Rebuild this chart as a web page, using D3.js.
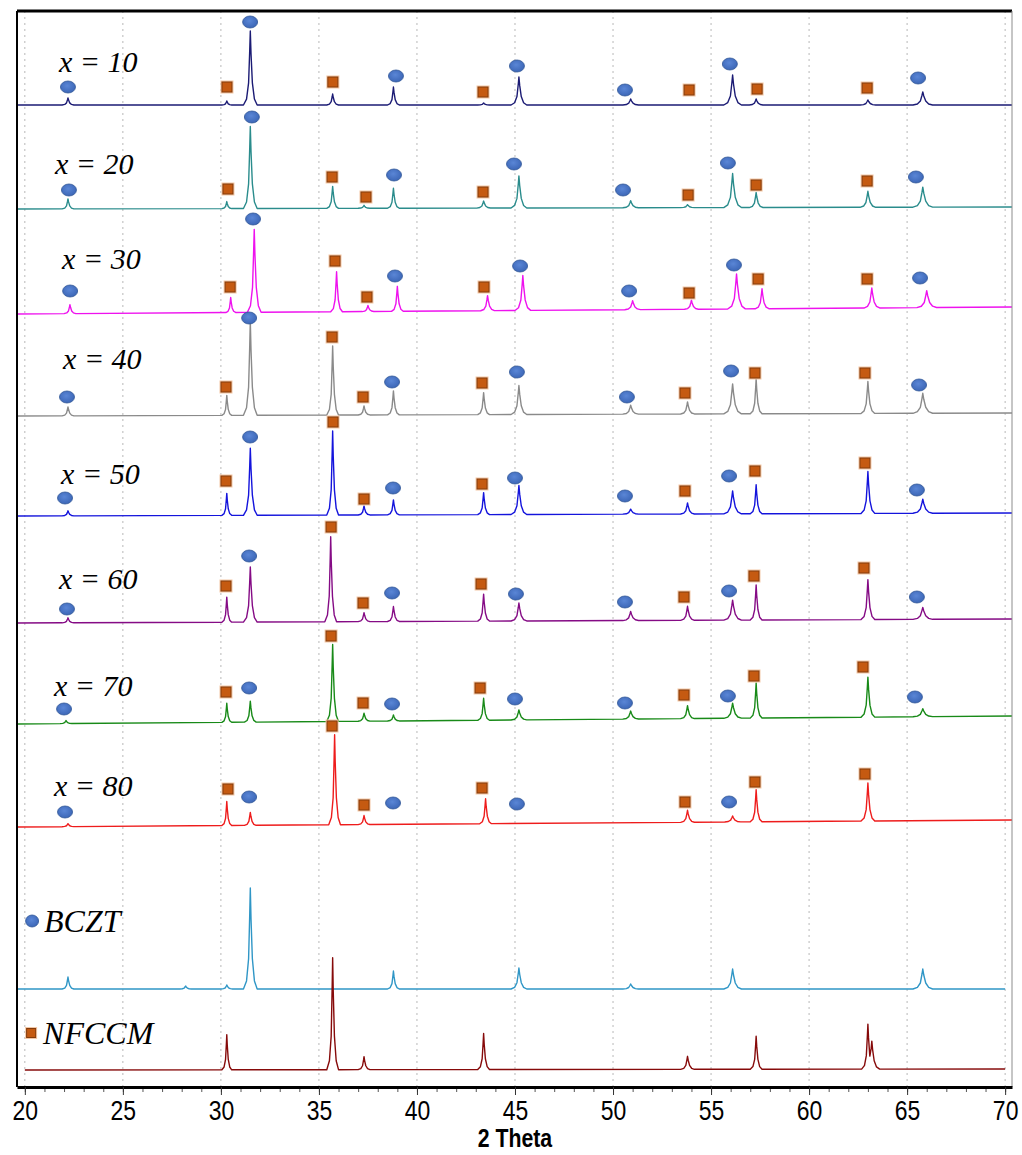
<!DOCTYPE html>
<html>
<head>
<meta charset="utf-8">
<script src="https://cdn.jsdelivr.net/npm/d3@7"></script>
<style>
body { margin: 0; background: #fff; }
</style>
</head>
<body>
<div id="chart"></div>
<script>
var width = 1022;
var height = 1155;

// patterns, top to bottom
var patterns = ["x = 10", "x = 20", "x = 30", "x = 40", "x = 50", "x = 60", "x = 70", "x = 80", "BCZT", "NFCCM"];

// baseline level (a.u.) of each pattern at the low and high angle end
var baseLeft  = [982, 878, 773, 671, 571, 464, 363, 260, 98, 17];
var baseRight = [982, 880, 780, 674, 574, 468, 371, 267, 98, 18];

// scanned 2theta range
var scanStart = [19.6, 19.6, 19.6, 19.6, 19.6, 19.6, 19.6, 19.6, 19.6, 20.0];
var scanEnd   = [70.35, 70.35, 70.35, 70.35, 70.35, 70.35, 70.35, 70.35, 70.0, 70.0];

// reflections: [2theta, height above baseline, half base width]
var peaks10 = [[22.2,7,0.3],[30.3,4,0.25],[31.5,74,0.35],[35.7,11,0.3],[38.8,18,0.3],[43.4,2,0.3],[45.2,28,0.4],[50.9,6,0.4],[56.1,30,0.45],[57.3,6,0.35],[63.0,5,0.4],[65.8,13,0.5]];
var peaks20 = [[22.2,10,0.3],[30.3,7,0.25],[31.5,82,0.35],[35.7,22,0.3],[37.3,3,0.3],[38.8,20,0.3],[43.4,7,0.35],[45.2,32,0.4],[50.9,7,0.4],[53.8,3,0.35],[56.1,34,0.45],[57.3,15,0.35],[63.0,16,0.4],[65.8,20,0.5]];
var peaks30 = [[22.3,9,0.3],[30.5,15,0.25],[31.7,83,0.35],[35.9,40,0.3],[37.5,6,0.3],[39.0,25,0.3],[43.6,15,0.35],[45.4,35,0.4],[51.0,9,0.4],[54.0,9,0.35],[56.3,35,0.45],[57.6,20,0.35],[63.2,20,0.4],[66.0,17,0.5]];
var peaks40 = [[22.2,9,0.3],[30.3,20,0.25],[31.5,94,0.35],[35.7,69,0.3],[37.3,9,0.3],[38.8,24,0.3],[43.4,22,0.3],[45.2,29,0.4],[50.9,9,0.4],[53.8,12,0.35],[56.1,30,0.45],[57.3,35,0.3],[63.0,32,0.35],[65.8,20,0.5]];
var peaks50 = [[22.2,5,0.3],[30.3,22,0.25],[31.5,67,0.35],[35.7,84,0.3],[37.3,9,0.3],[38.8,15,0.3],[43.4,22,0.3],[45.2,29,0.4],[50.9,5,0.4],[53.8,11,0.35],[56.1,23,0.45],[57.3,29,0.3],[63.0,42,0.35],[65.8,14,0.5]];
var peaks60 = [[22.2,5,0.3],[30.3,25,0.25],[31.5,55,0.35],[35.6,85,0.3],[37.3,9,0.3],[38.8,15,0.3],[43.4,27,0.3],[45.2,18,0.4],[50.9,9,0.4],[53.8,14,0.35],[56.1,20,0.45],[57.3,35,0.3],[63.0,40,0.35],[65.8,12,0.5]];
var peaks70 = [[22.1,3,0.3],[30.3,19,0.25],[31.5,21,0.3],[35.7,77,0.3],[37.3,8,0.3],[38.8,6,0.3],[43.4,22,0.3],[45.2,10,0.4],[50.9,8,0.4],[53.8,13,0.35],[56.1,15,0.45],[57.3,35,0.3],[63.0,40,0.35],[65.8,8,0.5]];
var peaks80 = [[22.2,3,0.3],[30.3,24,0.25],[31.5,13,0.3],[35.8,90,0.3],[37.3,9,0.3],[43.5,25,0.3],[53.8,12,0.35],[56.1,6,0.4],[57.3,32,0.3],[63.0,38,0.35]];
var peaksBCZT = [[22.2,12,0.3],[28.2,3,0.3],[30.3,4,0.3],[31.5,101,0.35],[38.8,18,0.3],[45.2,21,0.4],[50.9,5,0.4],[56.1,20,0.45],[65.8,20,0.5]];
var peaksNFCCM = [[30.3,35,0.25],[35.7,112,0.3],[37.3,13,0.3],[43.4,36,0.3],[53.8,13,0.35],[57.3,33,0.3],[63.0,45,0.32],[63.2,28,0.4]];
var peaks = [peaks10, peaks20, peaks30, peaks40, peaks50, peaks60, peaks70, peaks80, peaksBCZT, peaksNFCCM];

// phase markers: [2theta, level]
var bczt10 = [[22.20,1000],[31.49,1065],[38.93,1011],[45.10,1021],[50.61,997],[55.96,1023],[65.56,1009]];
var nfccm10 = [[30.31,1000],[35.71,1005],[43.37,995],[53.88,997],[57.35,998],[62.96,999]];
var bczt20 = [[22.25,897],[31.58,970],[38.83,912],[44.95,923],[50.51,897],[55.86,924],[65.45,910]];
var nfccm20 = [[30.36,898],[35.67,910],[37.40,890],[43.37,895],[53.83,892],[57.30,902],[62.96,906]];
var bczt30 = [[22.31,796],[31.64,868],[38.88,811],[45.26,821],[50.82,796],[56.17,822],[65.66,809]];
var nfccm30 = [[30.47,800],[35.82,826],[37.45,790],[43.42,800],[53.88,794],[57.40,808],[62.96,808]];
var bczt40 = [[22.15,690],[31.44,769],[38.73,705],[45.10,715],[50.71,690],[56.02,716],[65.61,702]];
var nfccm40 = [[30.26,700],[35.67,750],[37.25,690],[43.32,704],[53.67,694],[57.24,714],[62.85,714]];
var bczt50 = [[22.05,589],[31.49,650],[38.78,599],[45.00,609],[50.61,591],[55.92,611],[65.50,597]];
var nfccm50 = [[30.26,606],[35.72,665],[37.30,588],[43.32,603],[53.67,596],[57.24,616],[62.85,624]];
var bczt60 = [[22.15,478],[31.44,531],[38.73,494],[45.05,493],[50.61,485],[55.92,496],[65.50,490]];
var nfccm60 = [[30.26,501],[35.62,560],[37.25,484],[43.27,503],[53.62,490],[57.19,511],[62.80,519]];
var bczt70 = [[22.00,378],[31.44,399],[38.73,383],[45.00,388],[50.61,384],[55.86,391],[65.40,390]];
var nfccm70 = [[30.26,395],[35.62,451],[37.25,384],[43.22,399],[53.62,392],[57.19,411],[62.75,420]];
var bczt80 = [[22.05,275],[31.44,290],[38.78,284],[45.10,283],[55.92,285]];
var nfccm80 = [[30.36,298],[35.67,361],[37.30,282],[43.32,299],[53.67,285],[57.24,305],[62.85,313]];
var bcztMarks = [bczt10, bczt20, bczt30, bczt40, bczt50, bczt60, bczt70, bczt80];
var nfccmMarks = [nfccm10, nfccm20, nfccm30, nfccm40, nfccm50, nfccm60, nfccm70, nfccm80];

// where the pattern names sit: [2theta of text start, level of text baseline]
var labelAt = [[21.74,1015],[21.54,913],[21.90,818],[21.95,718],[21.85,603],[21.74,498],[21.49,391],[21.49,291],[20.98,155],[20.93,43]];
// legend symbols next to BCZT / NFCCM
var legendCircle = [20.37, 166];
var legendSquare = [20.32, 54];

var tickValues = [20, 25, 30, 35, 40, 45, 50, 55, 60, 65, 70];
var tickLabels = ["20", "25", "30", "35", "40", "45", "50", "55", "60", "65", "70"];
var minorTicks = d3.range(20, 71, 1);

var colors = ["#1b1b74", "#2a8c8c", "#ee12ee", "#8a8a8a", "#1414dc", "#850b85", "#188a18", "#ee1c1c", "#2f96c6", "#860a0a"];

var svg = d3.select("#chart")
    .append("svg")
    .attr("width", width)
    .attr("height", height);

var margin = {top: 11, right: 10, bottom: 68, left: 17};
var plotLeft = margin.left,
    plotRight = width - margin.right,
    plotTop = margin.top,
    plotBottom = height - margin.bottom;

var x = d3.scaleLinear().domain([19.6, 70.35]).range([plotLeft, plotRight]);
var y = d3.scaleLinear().domain([0, plotBottom - plotTop]).range([plotBottom, plotTop]);

// grid
svg.selectAll(".grid")
    .data(tickValues)
  .enter().append("line")
    .attr("class", "grid")
    .attr("x1", function(d) { return x(d); })
    .attr("x2", function(d) { return x(d); })
    .attr("y1", plotTop)
    .attr("y2", plotBottom)
    .attr("stroke", "#b8b8b8")
    .attr("stroke-width", 1)
    .attr("stroke-dasharray", "2,4");

// peak profile template (fraction of base half width -> fraction of height)
var shape = d3.scaleLinear()
    .domain([-1, -0.55, -0.25, -0.08, 0, 0.1, 0.3, 0.6, 1])
    .range([0, 0.08, 0.3, 0.75, 1, 0.7, 0.3, 0.08, 0])
    .clamp(true);

function buildTrace(i) {
  var base = d3.scaleLinear().domain([19.6, 70.35]).range([baseLeft[i], baseRight[i]]);
  var list = peaks[i];
  var xs = [scanStart[i], scanEnd[i]];
  list.forEach(function(p) {
    shape.domain().forEach(function(t) { xs.push(p[0] + t * p[2]); });
  });
  xs = xs.filter(function(v) { return v >= scanStart[i] && v <= scanEnd[i]; });
  xs.sort(function(a, b) { return a - b; });
  return xs.map(function(v) {
    var h = 0;
    list.forEach(function(p) {
      var t = (v - p[0]) / p[2];
      if (t > -1 && t < 1) h = Math.max(h, p[1] * shape(t));
    });
    return [v, base(v) + h];
  });
}

var line = d3.line()
    .x(function(d) { return x(d[0]); })
    .y(function(d) { return y(d[1]); });

patterns.forEach(function(name, i) {
  svg.append("path")
      .datum(buildTrace(i))
      .attr("fill", "none")
      .attr("stroke", colors[i])
      .attr("stroke-width", 1.4)
      .attr("stroke-linejoin", "round")
      .attr("d", line);
});

// markers
var defs = svg.append("defs");
var grad = defs.append("radialGradient").attr("id", "blueball").attr("cx", "45%").attr("cy", "40%").attr("r", "65%");
grad.append("stop").attr("offset", "0%").attr("stop-color", "#5a86d6");
grad.append("stop").attr("offset", "100%").attr("stop-color", "#3a64b4");

function drawCircle(a, lv, rx, ry) {
  svg.append("ellipse")
      .attr("cx", x(a))
      .attr("cy", y(lv))
      .attr("rx", rx)
      .attr("ry", ry)
      .attr("fill", "url(#blueball)")
      .attr("stroke", "#2f5597")
      .attr("stroke-width", 0.8);
}

function drawSquare(a, lv, s) {
  svg.append("rect")
      .attr("x", x(a) - s / 2 - 1.5)
      .attr("y", y(lv) - s / 2 - 1.5)
      .attr("width", s + 3)
      .attr("height", s + 3)
      .attr("fill", "#f3c7a6");
  svg.append("rect")
      .attr("x", x(a) - s / 2)
      .attr("y", y(lv) - s / 2)
      .attr("width", s)
      .attr("height", s)
      .attr("fill", "#c55a11")
      .attr("stroke", "#843c0c")
      .attr("stroke-width", 1);
}

bcztMarks.forEach(function(set) {
  set.forEach(function(m) { drawCircle(m[0], m[1], 7.5, 6); });
});
nfccmMarks.forEach(function(set) {
  set.forEach(function(m) { drawSquare(m[0], m[1], 10); });
});

drawCircle(legendCircle[0], legendCircle[1], 6.5, 6);
drawSquare(legendSquare[0], legendSquare[1], 9);

// pattern names
patterns.forEach(function(name, i) {
  svg.append("text")
      .attr("x", x(labelAt[i][0]))
      .attr("y", y(labelAt[i][1]))
      .text(name)
      .style("font-family", "'Liberation Serif', 'Times New Roman', serif")
      .style("font-style", "italic")
      .style("font-size", i < 8 ? "30px" : "32px")
      .attr("fill", "#000");
});

// frame
svg.append("line")
    .attr("x1", plotLeft).attr("x2", plotRight)
    .attr("y1", plotTop).attr("y2", plotTop)
    .attr("stroke", "#000").attr("stroke-width", 3);
svg.append("line")
    .attr("x1", plotLeft).attr("x2", plotLeft)
    .attr("y1", plotTop).attr("y2", plotBottom)
    .attr("stroke", "#000").attr("stroke-width", 2);
svg.append("line")
    .attr("x1", plotRight).attr("x2", plotRight)
    .attr("y1", plotTop).attr("y2", plotBottom)
    .attr("stroke", "#8c8c8c").attr("stroke-width", 1);

// minor ticks
svg.append("g")
    .attr("transform", "translate(0," + plotBottom + ")")
    .call(d3.axisBottom(x)
        .tickValues(minorTicks)
        .tickSize(5)
        .tickSizeOuter(0)
        .tickFormat(""))
    .call(function(g) { g.select(".domain").remove(); })
    .selectAll("line").attr("stroke", "#555");

// major axis
var xAxis = svg.append("g")
    .attr("class", "x axis")
    .attr("transform", "translate(0," + plotBottom + ")")
    .call(d3.axisBottom(x)
        .tickValues(tickValues)
        .tickSize(8)
        .tickSizeOuter(0)
        .tickPadding(5)
        .tickFormat(function(d, i) { return tickLabels[i]; }));

xAxis.select(".domain")
    .attr("stroke", "#000")
    .attr("stroke-width", 3);
xAxis.selectAll(".tick line").attr("stroke", "#333");
// narrow look of the original axis font
xAxis.selectAll(".tick text")
    .style("font-family", "'Liberation Sans', Arial, sans-serif")
    .style("font-size", "28px")
    .attr("transform", "scale(0.82,1)")
    .attr("fill", "#000");

svg.append("g")
    .attr("transform", "translate(" + x(45) + ",1147)")
  .append("text")
    .attr("text-anchor", "middle")
    .attr("transform", "scale(0.85,1)")
    .text("2 Theta")
    .style("font-family", "'Liberation Sans', Arial, sans-serif")
    .style("font-weight", "bold")
    .style("font-size", "25px");
</script>
</body>
</html>
